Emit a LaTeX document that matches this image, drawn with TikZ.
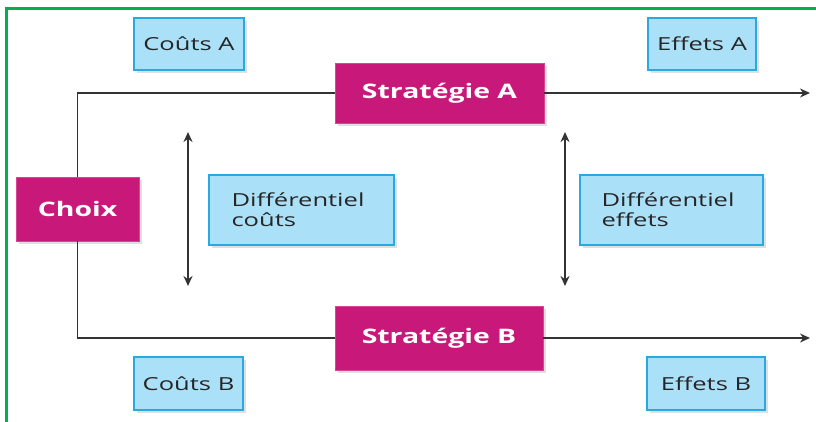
\documentclass[tikz,border=0pt]{standalone}
\usepackage{fontspec}
\setmainfont{Open Sans}
\newfontfamily\widefont[FakeStretch=1.42]{Open Sans}
\usetikzlibrary{shadows,arrows.meta}
\definecolor{mag}{HTML}{C8197A}
\definecolor{lblue}{HTML}{AAE1F9}
\definecolor{bblue}{HTML}{2AA9E0}
\definecolor{frgreen}{HTML}{00B050}
\definecolor{lin}{HTML}{333333}
\tikzset{
  strat/.style={draw=mag!80!white, fill=mag, text=white, font=\widefont\fontsize{20}{22}\selectfont\bfseries, inner sep=0pt,
    drop shadow={shadow xshift=3pt, shadow yshift=-3pt, opacity=0.25}},
  info/.style={draw=bblue, line width=1.2pt, fill=lblue, text=black!85, font=\widefont\fontsize{18}{20}\selectfont, inner sep=0pt,
    drop shadow={shadow xshift=3pt, shadow yshift=-3pt, opacity=0.25}},
  conn/.style={draw=lin, line width=1.5pt},
  tip/.style={-{Stealth[length=10pt,width=9pt]}},
  dtip/.style={{Stealth[length=10pt,width=9pt]}-{Stealth[length=10pt,width=9pt]}}
}
\begin{document}
\begin{tikzpicture}[x=1pt,y=-1pt]
\useasboundingbox (0,0) rectangle (816,422);
\fill[white] (0,0) rectangle (816,422);
\draw[frgreen, line width=3pt] (6,422) -- (6,9) -- (816,9);

\node[info, minimum width=110pt, minimum height=52pt] (ca) at (189,44) {Coûts A};
\node[info, minimum width=108pt, minimum height=52pt] (ea) at (702,44) {Effets A};
\node[info, minimum width=109pt, minimum height=53pt] (cb) at (188.5,383.5) {Coûts B};
\node[info, minimum width=118pt, minimum height=53pt] (eb) at (706,383.5) {Effets B};

\node[info, minimum width=185pt, minimum height=70pt, text width=140pt, align=left] (dc) at (301.5,210) {Différentiel\\coûts};
\node[info, minimum width=183pt, minimum height=70pt, text width=140pt, align=left] (de) at (671.5,210) {Différentiel\\effets};

\node[strat, minimum width=209pt, minimum height=60pt] (sa) at (439.5,93) {Stratégie A};
\node[strat, minimum width=208pt, minimum height=64pt] (sb) at (439,338) {Stratégie B};
\node[strat, minimum width=123pt, minimum height=64pt] (ch) at (77.5,209) {Choix};

\coordinate (ta) at (810,93);
\coordinate (tb) at (810,338);
\draw[conn] (ch.north) |- (sa.west);
\draw[conn] (ch.south) |- (sb.west);
\draw[conn, tip] (sa.east) -- (ta);
\draw[conn, tip] (sb.east) -- (tb);

\coordinate (d1t) at (188,132);
\coordinate (d1b) at (188,286);
\coordinate (d2t) at (565,132);
\coordinate (d2b) at (565,286);
\draw[conn, line width=2pt, dtip] (d1t) -- (d1b);
\draw[conn, line width=2pt, dtip] (d2t) -- (d2b);
\end{tikzpicture}
\end{document}
